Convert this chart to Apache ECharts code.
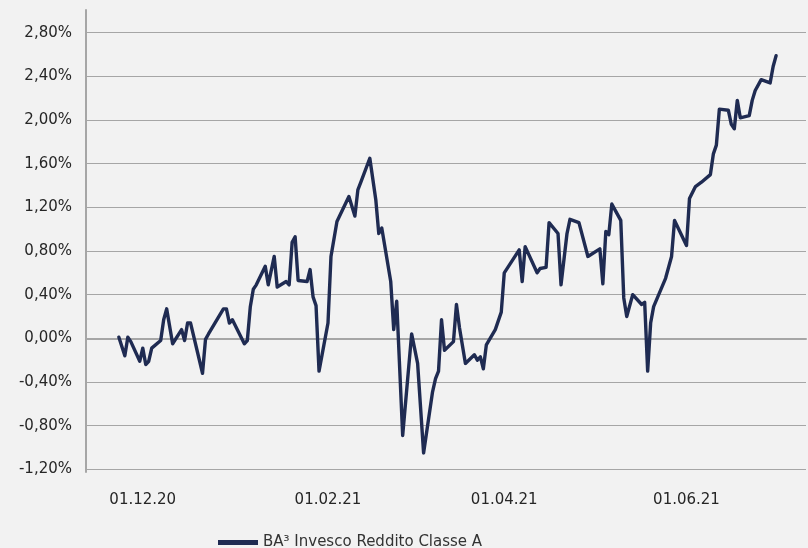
<!DOCTYPE html>
<html>
<head>
<meta charset="utf-8">
<script src="https://cdn.jsdelivr.net/npm/echarts@6/dist/echarts.min.js"></script>
<style>
html,body{margin:0;padding:0;background:#f2f2f2;}
#chart{width:808px;height:548px;}
</style>
</head>
<body>
<div id="chart"></div>
<script>
var seriesName = "BA\u00b3 Invesco Reddito Classe A";
var tickLabels = ["01.12.20","01.02.21","01.04.21","01.06.21"];
var dates = [
"2020-11-23","2020-11-25","2020-11-26","2020-11-27","2020-11-30","2020-12-01","2020-12-02","2020-12-03","2020-12-04",
"2020-12-07","2020-12-08","2020-12-09","2020-12-11","2020-12-14","2020-12-15","2020-12-16","2020-12-17","2020-12-21",
"2020-12-22","2020-12-23","2020-12-28","2020-12-29","2020-12-30","2020-12-31","2021-01-04","2021-01-05","2021-01-06",
"2021-01-07","2021-01-08","2021-01-11","2021-01-12","2021-01-14","2021-01-15","2021-01-18","2021-01-19","2021-01-20",
"2021-01-21","2021-01-22","2021-01-25","2021-01-26","2021-01-27","2021-01-28","2021-01-29","2021-02-01","2021-02-02",
"2021-02-04","2021-02-08","2021-02-10","2021-02-11","2021-02-12","2021-02-15","2021-02-17","2021-02-18","2021-02-19",
"2021-02-22","2021-02-23","2021-02-24","2021-02-26","2021-03-01","2021-03-03","2021-03-05","2021-03-08","2021-03-09",
"2021-03-10","2021-03-11","2021-03-12","2021-03-15","2021-03-16","2021-03-17","2021-03-19","2021-03-22","2021-03-23",
"2021-03-24","2021-03-25","2021-03-26","2021-03-29","2021-03-31","2021-04-01","2021-04-06","2021-04-07","2021-04-08",
"2021-04-12","2021-04-13","2021-04-15","2021-04-16","2021-04-19","2021-04-20","2021-04-22","2021-04-23","2021-04-26",
"2021-04-29","2021-05-03","2021-05-04","2021-05-05","2021-05-06","2021-05-07","2021-05-10","2021-05-11","2021-05-12",
"2021-05-14","2021-05-17","2021-05-18","2021-05-19","2021-05-20","2021-05-21","2021-05-25","2021-05-27","2021-05-28",
"2021-06-01","2021-06-02","2021-06-04","2021-06-06","2021-06-09","2021-06-10","2021-06-11","2021-06-12","2021-06-15",
"2021-06-16","2021-06-17","2021-06-18","2021-06-19","2021-06-22","2021-06-23","2021-06-24","2021-06-26","2021-06-29",
"2021-06-30","2021-07-01"
];
var values = [
0.01,-0.16,0.01,-0.03,-0.21,-0.09,-0.24,-0.21,-0.09,
-0.02,0.17,0.27,-0.05,0.08,-0.02,0.14,0.14,-0.32,
-0.01,0.04,0.27,0.27,0.14,0.17,-0.05,-0.02,0.29,
0.45,0.49,0.66,0.49,0.75,0.47,0.52,0.49,0.88,
0.93,0.53,0.52,0.63,0.38,0.30,-0.30,0.14,0.75,
1.07,1.30,1.12,1.36,1.43,1.65,1.27,0.96,1.01,
0.52,0.08,0.34,-0.89,0.04,-0.23,-1.05,-0.49,-0.37,
-0.30,0.17,-0.11,-0.03,0.31,0.10,-0.23,-0.15,-0.20,
-0.17,-0.28,-0.06,0.08,0.24,0.60,0.81,0.52,0.84,
0.60,0.64,0.65,1.06,0.96,0.49,0.96,1.09,1.06,
0.75,0.82,0.50,0.98,0.95,1.23,1.08,0.37,0.20,
0.40,0.31,0.33,-0.30,0.14,0.29,0.55,0.75,1.08,
0.85,1.28,1.39,1.43,1.50,1.69,1.77,2.10,2.09,
1.96,1.92,2.18,2.02,2.04,2.18,2.27,2.37,2.34,
2.49,2.59
];
var axisStart = "2020-11-12";
var axisEnd = "2021-07-11";

function isoToTime(s){
	var p = s.split("-");
	return Date.UTC(parseInt(p[0],10), parseInt(p[1],10) - 1, parseInt(p[2],10));
}
function labelToTime(s){
	var p = s.split(".");
	return Date.UTC(2000 + parseInt(p[2],10), parseInt(p[1],10) - 1, parseInt(p[0],10));
}
function pad(n){ return n < 10 ? "0" + n : "" + n; }

var lineData = [];
for(var i=0;i<dates.length;i++){
	lineData.push([isoToTime(dates[i]), values[i]]);
}
var tickTimes = [];
for(var j=0;j<tickLabels.length;j++){
	tickTimes.push(labelToTime(tickLabels[j]));
}

var font = "DejaVu Sans";
var gridColor = "#a6a6a6";

var option = {
	backgroundColor: "#f2f2f2",
	animation: false,
	textStyle: {fontFamily: font},
	legend: {
		left: 213,
		top: 530,
		icon: "rect",
		itemWidth: 40,
		itemHeight: 5,
		textStyle: {fontFamily: font, fontSize: 15, color: "#333333"},
		data: [seriesName]
	},
	grid: [
		{left: 86, right: 2, top: 32.7, bottom: 78.7},
		{left: 86, right: 2, top: 10, bottom: 76}
	],
	xAxis: [{
		gridIndex: 0,
		type: "value",
		min: isoToTime(axisStart),
		max: isoToTime(axisEnd),
		offset: 3,
		axisLine: {show: true, lineStyle: {color: gridColor, width: 2}},
		axisTick: {show: false},
		splitLine: {show: false},
		axisLabel: {
			customValues: tickTimes,
			margin: 20,
			fontFamily: font,
			fontSize: 15,
			color: "#262626",
			formatter: function(v){
				var d = new Date(v);
				return pad(d.getUTCDate()) + "." + pad(d.getUTCMonth()+1) + "." + pad(d.getUTCFullYear() % 100);
			}
		}
	},{
		gridIndex: 1,
		type: "value",
		show: false
	}],
	yAxis: [{
		gridIndex: 0,
		type: "value",
		min: -1.2,
		max: 2.8,
		interval: 0.4,
		axisLine: {show: false},
		axisTick: {show: false},
		splitLine: {lineStyle: {color: gridColor, width: 1}},
		axisLabel: {
			margin: 14,
			fontFamily: font,
			fontSize: 15,
			color: "#262626",
			formatter: function(v){ return v.toFixed(2).replace(".", ",") + "%"; }
		}
	},{
		gridIndex: 1,
		type: "value",
		axisLine: {show: true, lineStyle: {color: gridColor, width: 2}},
		axisTick: {show: false},
		axisLabel: {show: false},
		splitLine: {show: false}
	}],
	series: [{
		name: seriesName,
		type: "line",
		xAxisIndex: 0,
		yAxisIndex: 0,
		data: lineData,
		showSymbol: false,
		symbol: "none",
		lineStyle: {color: "#1f2b52", width: 3.4, join: "round", cap: "round"},
		itemStyle: {color: "#1f2b52"},
		z: 5,
		markLine: {
			silent: true,
			symbol: "none",
			label: {show: false},
			lineStyle: {color: gridColor, width: 2, type: "solid"},
			data: [{yAxis: 0}]
		}
	}]
};

var chart = echarts.init(document.getElementById("chart"));
chart.setOption(option);
</script>
</body>
</html>
